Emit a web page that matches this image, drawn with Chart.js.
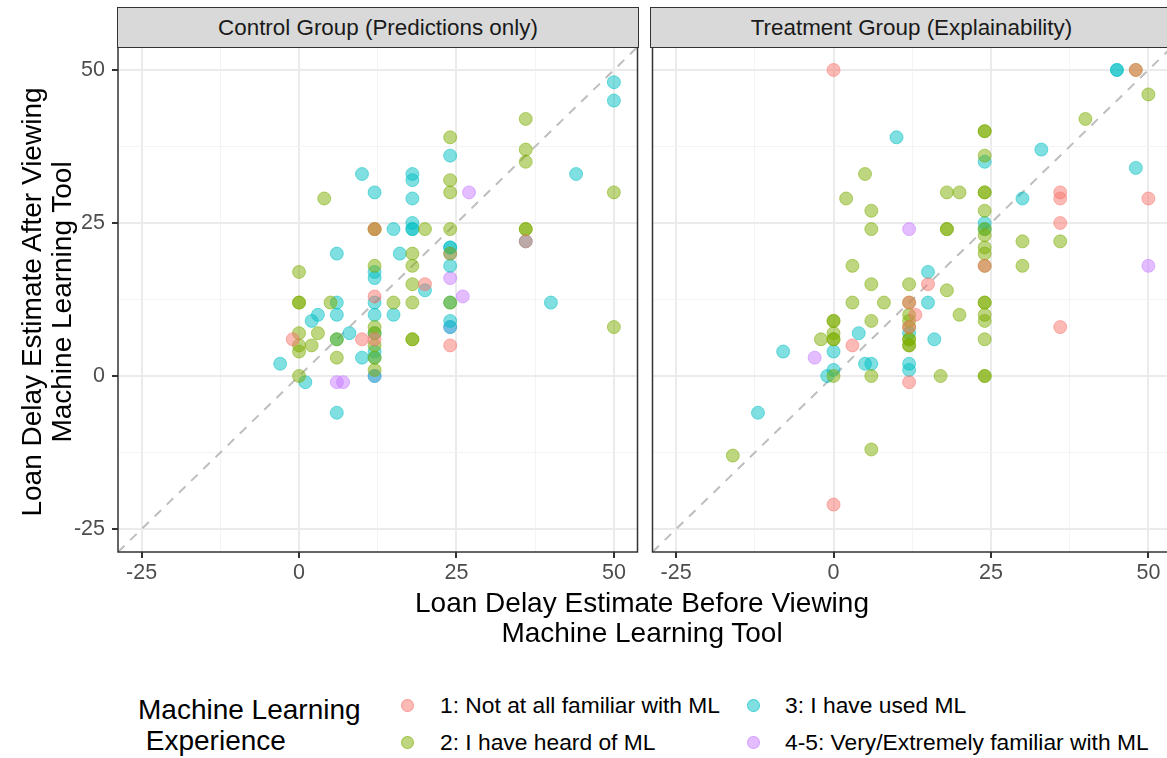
<!DOCTYPE html>
<html>
<head>
<meta charset="utf-8">
<script src="https://cdn.jsdelivr.net/npm/chart.js@4.4.1/dist/chart.umd.min.js"></script>
<style>
  html, body { margin: 0; padding: 0; background: #ffffff; }
  body { width: 1167px; height: 758px; overflow: hidden; position: relative;
         font-family: "Liberation Sans", Arial, Helvetica, sans-serif; }
  canvas { position: absolute; top: 0; }
  .strip { position: absolute; top: 7px; height: 41px; background: #D9D9D9;
           border: 1.5px solid #333333; box-sizing: border-box; font-size: 22.4px;
           color: #1A1A1A; display: flex; align-items: center; justify-content: center; white-space: nowrap; }
  .xtitle { position: absolute; left: 142px; width: 1000px; top: 588px; text-align: center;
            font-size: 28px; line-height: 30px; color: #000; }
  .ytitle { position: absolute; left: 47px; top: 302px; width: 600px; text-align: center;
            font-size: 28px; line-height: 30px; color: #000;
            transform: translate(-50%, -50%) rotate(-90deg); white-space: nowrap; }
  .ltitle { position: absolute; left: 138px; top: 694px; font-size: 28px; line-height: 31px; color: #000; white-space: pre; }
  .lkey { position: absolute; width: 13px; height: 13px; border-radius: 50%; box-sizing: border-box; }
  .ltext { position: absolute; font-size: 22.8px; color: #000; white-space: nowrap; line-height: 26px; }
</style>
</head>
<body>
<canvas id="ctrl" width="645" height="600" style="left:0px;width:645px;height:600px;"></canvas>
<canvas id="treat" width="545" height="600" style="left:645px;width:545px;height:600px;"></canvas>
<div class="strip" id="strip1" style="left:117px;width:522px;"></div>
<div class="strip" id="strip2" style="left:650px;width:523px;"></div>
<div class="xtitle" id="xtitle"></div>
<div class="ytitle" id="ytitle"></div>
<div class="ltitle" id="ltitle"></div>
<div id="legend"></div>
<script>
// ---------- data ----------
const panelTitles = ["Control Group (Predictions only)", "Treatment Group (Explainability)"];
const seriesLabels = ["1: Not at all familiar with ML", "2: I have heard of ML", "3: I have used ML", "4-5: Very/Extremely familiar with ML"];
const seriesColors = ["rgba(248,118,109,0.5)", "rgba(124,174,0,0.5)", "rgba(0,191,196,0.5)", "rgba(199,124,255,0.5)"];
const xTitleLines = ["Loan Delay Estimate Before Viewing", "Machine Learning Tool"];
const yTitleLines = ["Loan Delay Estimate After Viewing", "Machine Learning Tool"];
const legendTitleLines = ["Machine Learning", " Experience"];

const axisMin = -28.75, axisMax = 53.75;
const majorTicks = [-25, 0, 25, 50];
const minorTicks = [-12.5, 12.5, 37.5];

// Control group: [before, after]
const controlNotFamiliar = [[-1,6],[10,6],[12,13],[12,24],[12,6],[20,15],[24,5],[36,22]];
const controlHeard = [[4,29],[12,24],[12,24],[20,24],[24,24],[18,20],[12,18],[18,18],[0,17],[18,15],[0,12],[0,12],[5,12],
  [15,12],[18,12],[24,12],[0,7],[0,5],[0,4],[2,5],[3,7],[6,6],[12,8],[12,7],[12,5],[12,1],[12,3],[6,3],[18,6],[18,6],
  [0,0],[24,39],[36,42],[36,37],[36,35],[24,32],[24,30],[50,30],[36,24],[36,24],[50,8],[24,20]];
const controlUsed = [[24,36],[10,33],[18,33],[18,32],[12,30],[18,29],[18,25],[15,24],[18,24],[18,24],[6,20],[16,20],
  [24,21],[24,21],[24,18],[12,17],[12,16],[20,14],[6,12],[12,12],[3,10],[2,9],[6,10],[12,10],[15,10],[24,9],[24,8],
  [24,12],[6,6],[8,7],[12,4],[12,3],[10,3],[-3,2],[1,-1],[6,-6],[50,48],[50,45],[44,33],[40,12],[12,0],[12,7],[36,22]];
const controlFamiliar = [[27,30],[24,20],[24,16],[26,13],[24,8],[12,0],[6,-1],[7,-1]];

// Treatment group: [before, after]
const treatNotFamiliar = [[0,50],[36,30],[36,29],[50,29],[36,25],[36,8],[24,18],[15,15],[12,12],[13,10],[12,8],
  [3,5],[12,-1],[0,-21],[48,50]];
const treatHeard = [[24,36],[5,33],[2,29],[18,30],[20,30],[24,30],[24,30],[6,27],[24,27],[6,24],[18,24],[18,24],
  [24,24],[24,23],[24,21],[24,20],[24,18],[3,18],[6,15],[12,15],[18,14],[3,12],[8,12],[12,12],[24,12],[24,12],
  [0,9],[0,9],[0,7],[-2,6],[0,6],[0,6],[6,9],[12,10],[12,9],[12,8],[20,10],[24,10],[24,9],[12,6],[12,6],[12,5],
  [12,5],[24,6],[0,0],[6,0],[17,0],[24,0],[24,0],[50,46],[40,42],[24,40],[24,40],[30,22],[36,22],[30,18],[48,50],
  [-16,-13],[6,-12]];
const treatUsed = [[24,35],[24,25],[24,24],[15,17],[15,12],[4,7],[12,7],[16,6],[0,4],[5,2],[6,2],[12,2],[12,1],
  [0,1],[-1,0],[45,50],[45,50],[33,37],[48,34],[30,29],[10,39],[-8,4],[-12,-6]];
const treatFamiliar = [[12,24],[-3,3],[50,18]];

// ---------- text ----------
document.getElementById('strip1').textContent = panelTitles[0];
document.getElementById('strip2').textContent = panelTitles[1];
document.getElementById('xtitle').innerHTML = xTitleLines.join('<br>');
document.getElementById('ytitle').innerHTML = yTitleLines.join('<br>');
document.getElementById('ltitle').textContent = legendTitleLines.join('\n');

const legendPos = [[407, 440, 705], [407, 440, 742], [753, 785, 705], [753, 785, 742]];
const legend = document.getElementById('legend');
seriesLabels.forEach((lab, i) => {
  const [kx, tx, cy] = legendPos[i];
  const k = document.createElement('div');
  k.className = 'lkey';
  k.style.left = (kx - 6.5) + 'px'; k.style.top = (cy - 6.5) + 'px';
  k.style.background = seriesColors[i];
  k.style.border = '1px solid ' + seriesColors[i];
  legend.appendChild(k);
  const t = document.createElement('div');
  t.className = 'ltext';
  t.style.left = tx + 'px'; t.style.top = (cy - 13) + 'px';
  t.textContent = lab;
  legend.appendChild(t);
});

// ---------- charts ----------
const FONT = '"Liberation Sans", Arial, Helvetica, sans-serif';
const gridValues = majorTicks.concat(minorTicks).sort((a, b) => a - b);
const isMajor = v => majorTicks.includes(v);
const toPts = arr => arr.map(p => ({ x: p[0], y: p[1] }));

const panelBorder = {
  id: 'panelBorder',
  afterDraw(chart) {
    const { ctx, chartArea: a } = chart;
    ctx.save();
    ctx.strokeStyle = '#333333';
    ctx.lineWidth = 1.5;
    ctx.strokeRect(a.left, a.top, a.right - a.left, a.bottom - a.top);
    ctx.restore();
  }
};

function scaleOpts(axis, showLabels, fit) {
  return {
    type: 'linear', min: axisMin, max: axisMax,
    afterBuildTicks: s => { s.ticks = gridValues.map(v => ({ value: v })); },
    afterFit: s => { if (axis === 'y') s.width = fit; else s.height = fit; },
    border: { display: false },
    grid: {
      color: c => (c.tick && isMajor(c.tick.value)) ? '#EBEBEB' : '#F4F4F4',
      lineWidth: c => (c.tick && isMajor(c.tick.value)) ? 2 : 1,
      drawTicks: showLabels,
      tickLength: 6,
      tickWidth: 2,
      tickColor: c => (c.tick && isMajor(c.tick.value)) ? '#333333' : 'rgba(0,0,0,0)'
    },
    ticks: {
      display: showLabels,
      autoSkip: false, maxRotation: 0, minRotation: 0,
      padding: axis === 'y' ? 7 : 2,
      color: '#4D4D4D',
      font: { family: FONT, size: 21.5 },
      callback: v => isMajor(v) ? String(v) : ''
    }
  };
}

function makePanel(id, groups, showY, yFit, rightPad) {
  const datasets = [{
    type: 'line',
    data: [{ x: axisMin, y: axisMin }, { x: axisMax, y: axisMax }],
    borderColor: '#BEBEBE', borderWidth: 2, borderDash: [9, 8],
    pointRadius: 0, fill: false, order: 10
  }];
  groups.forEach((g, i) => {
    datasets.push({
      type: 'scatter', label: seriesLabels[i], data: toPts(g),
      backgroundColor: seriesColors[i], borderColor: seriesColors[i],
      borderWidth: 1, pointRadius: 6.5, order: 1 + i
    });
  });
  new Chart(document.getElementById(id), {
    data: { datasets },
    options: {
      responsive: false, animation: false, devicePixelRatio: 1,
      layout: { padding: { top: 47, right: rightPad, left: 0, bottom: 0 } },
      plugins: { legend: { display: false }, tooltip: { enabled: false }, title: { display: false } },
      scales: {
        x: scaleOpts('x', true, 48),
        y: scaleOpts('y', showY, yFit)
      }
    },
    plugins: [panelBorder]
  });
}

makePanel('ctrl', [controlNotFamiliar, controlHeard, controlUsed, controlFamiliar], true, 118, 6);
makePanel('treat', [treatNotFamiliar, treatHeard, treatUsed, treatFamiliar], false, 6, 18);
</script>
</body>
</html>
